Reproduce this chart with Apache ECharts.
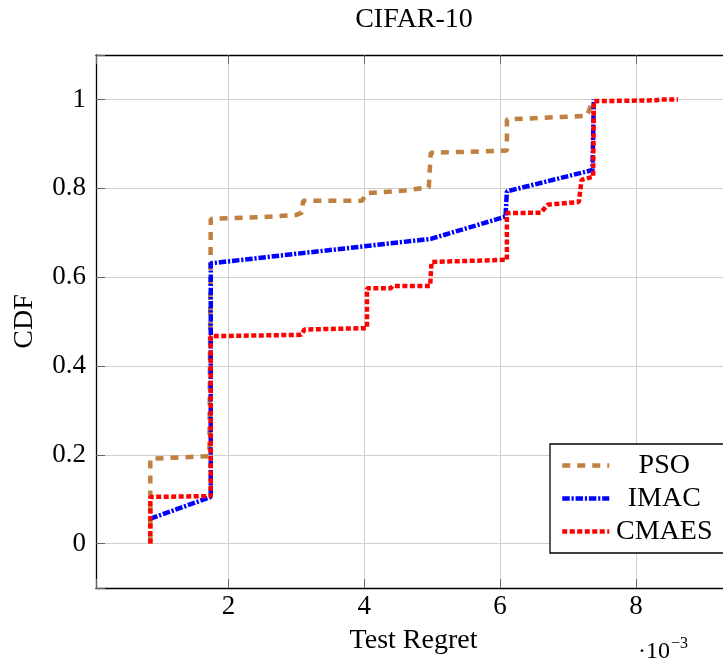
<!DOCTYPE html>
<html>
<head>
<meta charset="utf-8">
<script src="https://cdn.jsdelivr.net/npm/echarts@6/dist/echarts.min.js"></script>
<style>
html, body { margin: 0; padding: 0; background: #fff; }
#chart { width: 723px; height: 663px; }
</style>
</head>
<body>
<div id="chart"></div>
<script>
// CDF of test regret on CIFAR-10 (x values in units of 1e-3)
const seriesNames = ['PSO', 'IMAC', 'CMAES'];
const seriesColors = ['#bf8040', '#0000ff', '#ff0000'];

const psoPoints = [
    [0.85, 0], [0.85, 0.191], [1.3, 0.194], [1.72, 0.197], [1.74, 0.731],
    [2.5, 0.735], [3.0, 0.74], [3.08, 0.745], [3.1, 0.772], [3.97, 0.772],
    [4.03, 0.789], [4.6, 0.795], [4.95, 0.802], [4.98, 0.88], [5.5, 0.882],
    [6.1, 0.885], [6.1, 0.955], [7.28, 0.963], [7.37, 1.0]
];
const imacPoints = [
    [0.85, 0.056], [1.74, 0.105], [1.74, 0.631], [4.98, 0.686], [6.08, 0.736],
    [6.1, 0.793], [7.36, 0.841], [7.38, 1.0]
];
const cmaesPoints = [
    [0.85, 0], [0.85, 0.105], [1.74, 0.107], [1.74, 0.467], [3.07, 0.47],
    [3.12, 0.482], [4.04, 0.485], [4.04, 0.575], [4.39, 0.575], [4.42, 0.58],
    [4.97, 0.58], [4.99, 0.634], [6.1, 0.639], [6.1, 0.744], [6.6, 0.745],
    [6.7, 0.763], [7.16, 0.769], [7.2, 0.819], [7.37, 0.826], [7.38, 0.996],
    [8.3, 0.998], [8.36, 1.0], [8.62, 1.0]
];

const xTickLabels = [2, 4, 6, 8];
const yTickLabels = [0, 0.2, 0.4, 0.6, 0.8, 1];

const FONT = 'Liberation Serif';
const chart = echarts.init(document.getElementById('chart'));

function tickFormatter(list) {
    return function (v) {
        const hit = list.find(t => Math.abs(t - v) < 1e-6);
        return hit === undefined ? '' : String(hit);
    };
}

const lineTypes = [[8, 7], [7.5, 1.8, 2.2, 1.8], [5, 2.5]];
const allPoints = [psoPoints, imacPoints, cmaesPoints];

const tickStyle = { show: true, inside: true, length: 9, lineStyle: { color: '#666', width: 1 } };
const borderLine = { show: true, onZero: false, lineStyle: { color: '#000', width: 1.3 } };

chart.setOption({
    animation: false,
    title: {
        text: 'CIFAR-10',
        left: 414,
        top: 6,
        padding: 0,
        textAlign: 'center',
        textStyle: { fontFamily: FONT, fontSize: 28, fontWeight: 'normal', color: '#000' }
    },
    // plot box runs past the right edge of the picture
    grid: { left: 96, top: 55, width: 635, height: 533, containLabel: false, outerBoundsMode: 'none' },
    legend: {
        orient: 'vertical',
        left: 550,
        top: 444,
        padding: [7.5, 10, 7.5, 10],
        itemWidth: 47,
        itemHeight: 14,
        itemGap: 5,
        borderColor: '#000',
        borderWidth: 1.3,
        borderRadius: 0,
        backgroundColor: '#fff',
        itemStyle: { opacity: 0 },
        lineStyle: { width: 4.5 },
        formatter: '{c|{name}}',
        textStyle: {
            rich: {
                c: { width: 100, align: 'center', fontSize: 28, lineHeight: 28, fontFamily: FONT, color: '#000' }
            }
        },
        data: seriesNames
    },
    xAxis: [{
        type: 'value',
        min: 0.05,
        max: 9.4,
        splitNumber: 5,
        name: 'Test Regret',
        nameLocation: 'middle',
        nameGap: 39,
        nameTextStyle: { fontFamily: FONT, fontSize: 28, color: '#000' },
        axisLine: borderLine,
        axisTick: tickStyle,
        axisLabel: { margin: 5, fontFamily: FONT, fontSize: 27, color: '#000', formatter: tickFormatter(xTickLabels) },
        splitLine: { show: true, lineStyle: { color: '#cfcfcf', width: 1 } }
    }, {
        type: 'value',
        position: 'top',
        min: 0.05,
        max: 9.4,
        splitNumber: 5,
        axisLine: borderLine,
        axisTick: tickStyle,
        axisLabel: { show: false },
        splitLine: { show: false }
    }],
    yAxis: {
        type: 'value',
        min: -0.1,
        max: 1.1,
        splitNumber: 6,
        name: 'CDF',
        nameLocation: 'middle',
        nameGap: 57,
        nameTextStyle: { fontFamily: FONT, fontSize: 28, color: '#000' },
        axisLine: borderLine,
        axisTick: tickStyle,
        axisLabel: { margin: 10, fontFamily: FONT, fontSize: 27, color: '#000', formatter: tickFormatter(yTickLabels) },
        splitLine: { show: true, lineStyle: { color: '#cfcfcf', width: 1 } }
    },
    series: seriesNames.map((name, i) => ({
        name: name,
        type: 'line',
        data: allPoints[i],
        symbol: 'none',
        showSymbol: false,
        lineStyle: { color: seriesColors[i], width: 4.5, type: lineTypes[i], cap: 'butt' },
        itemStyle: { color: seriesColors[i] },
        z: 2 + i
    })),
    graphic: [
        {
            type: 'text', x: 638, y: 651.5,
            style: { text: '\u00b710', fontFamily: FONT, fontSize: 24, fill: '#000', verticalAlign: 'middle', align: 'left' }
        },
        {
            type: 'text', x: 671, y: 643.5,
            style: { text: '\u22123', fontFamily: FONT, fontSize: 16, fill: '#000', verticalAlign: 'middle', align: 'left' }
        }
    ]
});
</script>
</body>
</html>
